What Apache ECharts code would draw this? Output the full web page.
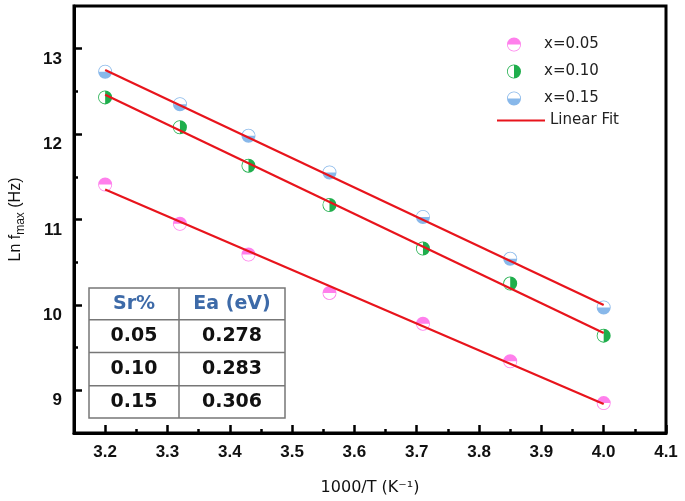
<!DOCTYPE html>
<html>
<head>
<meta charset="utf-8">
<script src="https://cdn.jsdelivr.net/npm/echarts@6/dist/echarts.min.js"></script>
<style>
html,body{margin:0;padding:0;background:#fff;}
#chart{width:685px;height:501px;}
</style>
</head>
<body>
<div id="chart"></div>
<script>
// ---- data ----
var xInvT = [3.20, 3.32, 3.43, 3.56, 3.71, 3.85, 4.00];
var lnF_005 = [11.41, 10.95, 10.59, 10.14, 9.78, 9.34, 8.85];
var lnF_010 = [12.43, 12.08, 11.63, 11.17, 10.66, 10.25, 9.64];
var lnF_015 = [12.73, 12.35, 11.98, 11.55, 11.03, 10.54, 9.97];

var fitX = [3.20, 4.00];
var fit_005 = [11.35, 8.84];
var fit_010 = [12.46, 9.67];
var fit_015 = [12.75, 10.00];

var seriesNames = ['x=0.05', 'x=0.10', 'x=0.15'];
var fitName = 'Linear Fit';

var xMajorTicks = [3.2, 3.3, 3.4, 3.5, 3.6, 3.7, 3.8, 3.9, 4.0, 4.1];
var xMinorTicks = [3.25, 3.35, 3.45, 3.55, 3.65, 3.75, 3.85, 3.95, 4.05];
var yMajorTicks = [9, 10, 11, 12, 13];
var yMinorTicks = [9.5, 10.5, 11.5, 12.5];

var tableHeader = ['Sr%', 'Ea (eV)'];
var tableSr = ['0.05', '0.10', '0.15'];
var tableEa = ['0.278', '0.283', '0.306'];

// ---- styling ----
var colors = ['#ff7fec', '#1fae4c', '#88b8ea'];
var fitColor = '#e8141c';
var ring = 'M-10,0 A10,10 0 1 1 10,0 A10,10 0 1 1 -10,0 Z ' +
           'M-8.9,0 A8.9,8.9 0 1 0 8.9,0 A8.9,8.9 0 1 0 -8.9,0 Z ';
var halves = [
  'M-8.9,0 A8.9,8.9 0 0 1 8.9,0 Z',   // top half
  'M0,-8.9 A8.9,8.9 0 0 1 0,8.9 Z',   // right half
  'M8.9,0 A8.9,8.9 0 0 1 -8.9,0 Z'    // bottom half
];
function pairs(xs, ys) { return xs.map(function (x, i) { return [x, ys[i]]; }); }

var pointSets = [lnF_005, lnF_010, lnF_015];
var fitSets = [fit_005, fit_010, fit_015];

var series = [];
pointSets.forEach(function (ys, i) {
  series.push({
    name: seriesNames[i],
    type: 'scatter',
    data: pairs(xInvT, ys),
    symbol: 'path://' + ring + halves[i],
    symbolKeepAspect: true,
    symbolSize: 14,
    itemStyle: { color: colors[i], opacity: 1 },
    z: 2
  });
});
fitSets.forEach(function (ys) {
  series.push({
    name: fitName,
    type: 'line',
    data: pairs(fitX, ys),
    symbol: 'none',
    lineStyle: { color: fitColor, width: 2.2 },
    itemStyle: { color: fitColor },
    z: 3
  });
});

var font = 'Liberation Sans';
var legendFont = 'DejaVu Sans';

// table graphic
var tbl = [];
var colX = [45, 143];
var rowY = [16, 48, 81, 114];
tbl.push({ type: 'rect', shape: { x: 0, y: 0, width: 196, height: 130 },
  style: { fill: '#fff', stroke: '#777', lineWidth: 1.5 } });
[31.7, 64.4, 97.7].forEach(function (y) {
  tbl.push({ type: 'line', shape: { x1: 0, y1: y, x2: 196, y2: y }, style: { stroke: '#777', lineWidth: 1.5 } });
});
tbl.push({ type: 'line', shape: { x1: 90, y1: 0, x2: 90, y2: 130 }, style: { stroke: '#777', lineWidth: 1.5 } });
tableHeader.forEach(function (t, c) {
  tbl.push({ type: 'text', x: colX[c], y: rowY[0],
    style: { text: t, fill: '#3d6aa8', font: 'bold 19px "DejaVu Sans"', align: 'center', verticalAlign: 'middle' } });
});
tableSr.forEach(function (t, r) {
  tbl.push({ type: 'text', x: colX[0], y: rowY[r + 1],
    style: { text: t, fill: '#111', font: 'bold 19px "DejaVu Sans"', align: 'center', verticalAlign: 'middle' } });
  tbl.push({ type: 'text', x: colX[1], y: rowY[r + 1],
    style: { text: tableEa[r], fill: '#111', font: 'bold 19px "DejaVu Sans"', align: 'center', verticalAlign: 'middle' } });
});

var chart = echarts.init(document.getElementById('chart'), null, { renderer: 'canvas' });
chart.setOption({
  animation: false,
  backgroundColor: '#fff',
  textStyle: { fontFamily: font },
  grid: { left: 73, right: 19, top: 6, bottom: 68, show: true, borderColor: '#000', borderWidth: 3, backgroundColor: 'transparent' },
  legend: [{
    orient: 'vertical', left: 502, top: 32, itemWidth: 50, itemHeight: 14, itemGap: 12,
    data: seriesNames, selectedMode: false,
    textStyle: { fontFamily: legendFont, fontSize: 15, color: '#222', lineHeight: 14 }
  }, {
    orient: 'vertical', left: 492, top: 108, itemWidth: 48, itemHeight: 2,
    data: [{ name: fitName, icon: 'rect' }], selectedMode: false,
    itemStyle: { color: fitColor },
    textStyle: { fontFamily: legendFont, fontSize: 15, color: '#222', lineHeight: 14 }
  }],
  xAxis: [{
    type: 'value', position: 'bottom', min: 3.15, max: 4.1,
    name: '1000/T (K⁻¹)', nameLocation: 'middle', nameGap: 47,
    nameTextStyle: { fontFamily: legendFont, fontSize: 16, color: '#111' },
    axisLine: { show: true, lineStyle: { color: '#000', width: 3 } },
    axisTick: { show: true, inside: true, length: 8, customValues: xMajorTicks, lineStyle: { color: '#000', width: 2.5 } },
    axisLabel: { show: true, customValues: xMajorTicks, margin: 11, fontSize: 17, fontWeight: 'bold', color: '#111',
      formatter: function (v) { return v.toFixed(1); } },
    splitLine: { show: false }
  }, {
    type: 'value', position: 'bottom', min: 3.15, max: 4.1,
    axisLine: { show: false },
    axisTick: { show: true, inside: true, length: 4, customValues: xMinorTicks, lineStyle: { color: '#000', width: 2.5 } },
    axisLabel: { show: false },
    splitLine: { show: false }
  }],
  yAxis: [{
    type: 'value', position: 'left', min: 8.5, max: 13.5,
    name: '{a|Ln f}{b|max}{a| (Hz)}', nameLocation: 'middle', nameGap: 47,
    nameTextStyle: { rich: {
      a: { fontFamily: font, fontSize: 16, color: '#111', lineHeight: 22 },
      b: { fontFamily: font, fontSize: 12, color: '#111', lineHeight: 12, verticalAlign: 'bottom' }
    } },
    axisLine: { show: true, lineStyle: { color: '#000', width: 3 } },
    axisTick: { show: true, inside: true, length: 8, customValues: yMajorTicks, lineStyle: { color: '#000', width: 2.5 } },
    axisLabel: { show: true, customValues: yMajorTicks, margin: 12, fontSize: 17, fontWeight: 'bold', color: '#111',
      verticalAlign: 'top', padding: [2, 0, 0, 0],
      formatter: function (v) { return String(Math.round(v)); } },
    splitLine: { show: false }
  }, {
    type: 'value', position: 'left', min: 8.5, max: 13.5, offset: 0,
    axisLine: { show: false },
    axisTick: { show: true, inside: true, length: 4, customValues: yMinorTicks, lineStyle: { color: '#000', width: 2.5 } },
    axisLabel: { show: false },
    splitLine: { show: false }
  }],
  graphic: [{ type: 'group', x: 89, y: 288, z: 100, children: tbl }],
  series: series
});
</script>
</body>
</html>
